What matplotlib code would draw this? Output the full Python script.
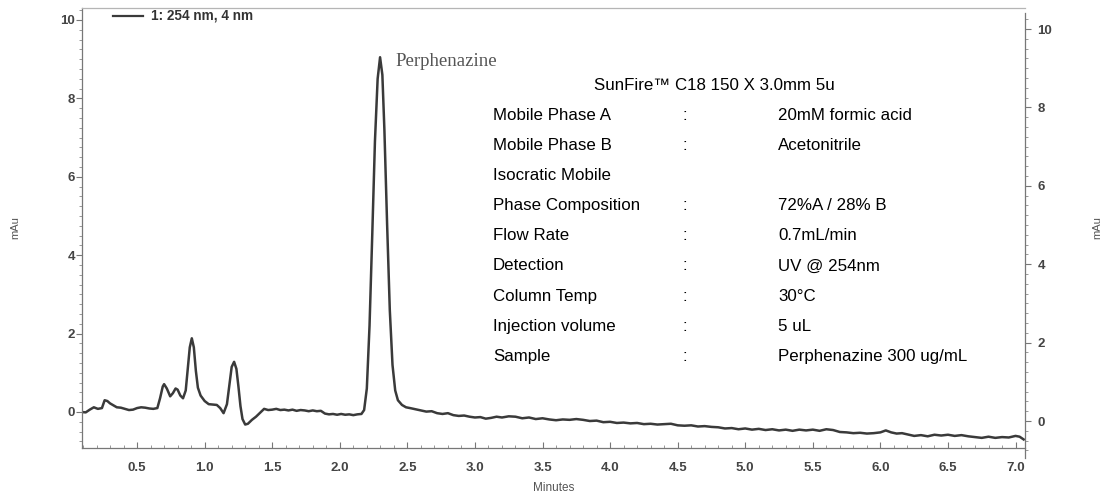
import matplotlib
matplotlib.use("Agg")
import matplotlib.pyplot as plt
from matplotlib.ticker import MultipleLocator

# ---------------- data ----------------
TIME = [0.09, 0.12, 0.15, 0.18, 0.21, 0.24, 0.26, 0.28, 0.30, 0.32, 0.35, 0.38, 0.41, 0.44,
        0.47, 0.50, 0.53, 0.56, 0.59, 0.62, 0.65, 0.67, 0.69, 0.70, 0.72, 0.745, 0.765, 0.785,
        0.80, 0.82, 0.84, 0.86, 0.875, 0.89, 0.905, 0.92, 0.935, 0.95, 0.97, 1.00, 1.03, 1.06,
        1.09, 1.115, 1.14, 1.165, 1.185, 1.20, 1.218, 1.235, 1.25, 1.265, 1.28, 1.30, 1.32,
        1.35, 1.38, 1.41, 1.44, 1.47, 1.50, 1.53, 1.56, 1.59, 1.62, 1.65, 1.68, 1.71, 1.74,
        1.77, 1.80, 1.83, 1.86, 1.89, 1.92, 1.95, 1.98, 2.01, 2.04, 2.07, 2.10, 2.13, 2.16,
        2.18, 2.20, 2.22, 2.24, 2.26, 2.28, 2.298, 2.315, 2.33, 2.35, 2.37, 2.39, 2.41, 2.43,
        2.46, 2.49, 2.52, 2.56, 2.60, 2.64, 2.68, 2.72, 2.76, 2.80, 2.84, 2.88, 2.92, 2.96,
        3.00, 3.04, 3.08, 3.12, 3.16, 3.20, 3.25, 3.30, 3.35, 3.40, 3.45, 3.50, 3.55, 3.60,
        3.65, 3.70, 3.75, 3.80, 3.85, 3.90, 3.95, 4.00, 4.05, 4.10, 4.15, 4.20, 4.25, 4.30,
        4.35, 4.40, 4.45, 4.50, 4.55, 4.60, 4.65, 4.70, 4.75, 4.80, 4.85, 4.90, 4.95, 5.00,
        5.05, 5.10, 5.15, 5.20, 5.25, 5.30, 5.35, 5.40, 5.45, 5.50, 5.55, 5.60, 5.65, 5.70,
        5.75, 5.80, 5.85, 5.90, 5.95, 6.00, 6.04, 6.08, 6.12, 6.16, 6.20, 6.25, 6.30, 6.35,
        6.40, 6.45, 6.50, 6.55, 6.60, 6.65, 6.70, 6.75, 6.80, 6.85, 6.90, 6.95, 7.00, 7.03,
        7.06]
SIGNAL = [0.00, -0.01, 0.06, 0.12, 0.08, 0.10, 0.30, 0.28, 0.22, 0.18, 0.12, 0.11, 0.08, 0.05,
          0.06, 0.10, 0.12, 0.11, 0.09, 0.08, 0.10, 0.35, 0.65, 0.71, 0.60, 0.40, 0.48, 0.60,
          0.57, 0.42, 0.35, 0.55, 1.10, 1.65, 1.88, 1.65, 1.05, 0.62, 0.42, 0.28, 0.20, 0.19,
          0.18, 0.10, -0.03, 0.20, 0.75, 1.15, 1.28, 1.10, 0.65, 0.15, -0.18, -0.32, -0.30,
          -0.20, -0.12, -0.02, 0.08, 0.05, 0.06, 0.08, 0.05, 0.06, 0.04, 0.06, 0.03, 0.05, 0.04,
          0.02, 0.04, 0.02, 0.03, -0.04, -0.06, -0.05, -0.07, -0.05, -0.07, -0.06, -0.08, -0.06, -0.05,
          0.05, 0.60, 2.20, 4.50, 6.90, 8.50, 9.05, 8.60, 7.20, 4.80, 2.60, 1.20, 0.55, 0.30,
          0.18, 0.12, 0.10, 0.07, 0.04, 0.01, 0.02, -0.03, -0.05, -0.03, -0.08, -0.10, -0.09, -0.12,
          -0.14, -0.13, -0.17, -0.15, -0.12, -0.14, -0.11, -0.12, -0.16, -0.14, -0.18, -0.16, -0.19, -0.21,
          -0.19, -0.20, -0.18, -0.20, -0.23, -0.22, -0.26, -0.25, -0.28, -0.27, -0.29, -0.28, -0.31, -0.30,
          -0.32, -0.31, -0.30, -0.34, -0.35, -0.34, -0.37, -0.36, -0.38, -0.39, -0.42, -0.41, -0.44, -0.42,
          -0.45, -0.43, -0.46, -0.44, -0.47, -0.45, -0.48, -0.45, -0.47, -0.45, -0.48, -0.44, -0.46, -0.51,
          -0.52, -0.54, -0.53, -0.55, -0.54, -0.52, -0.47, -0.52, -0.55, -0.54, -0.57, -0.61, -0.59, -0.62,
          -0.58, -0.60, -0.58, -0.61, -0.59, -0.62, -0.64, -0.66, -0.63, -0.66, -0.64, -0.65, -0.61, -0.63,
          -0.70]

X_TICKS = [0.5, 1.0, 1.5, 2.0, 2.5, 3.0, 3.5, 4.0, 4.5, 5.0, 5.5, 6.0, 6.5, 7.0]
Y_TICKS = [0, 2, 4, 6, 8, 10]
LEGEND_LABEL = "1: 254 nm, 4 nm"
PEAK_LABEL = "Perphenazine"
TABLE_TITLE = "SunFire\u2122 C18 150 X 3.0mm 5u"
TABLE_KEYS = ["Mobile Phase A", "Mobile Phase B", "Isocratic Mobile", "Phase Composition",
              "Flow Rate", "Detection", "Column Temp", "Injection volume", "Sample"]
TABLE_SEPS = [":", ":", "", ":", ":", ":", ":", ":", ":"]
TABLE_VALUES = ["20mM formic acid", "Acetonitrile", "", "72%A / 28% B", "0.7mL/min",
                "UV @ 254nm", "30\u00b0C", "5 uL", "Perphenazine 300 ug/mL"]

# ---------------- figure ----------------
W, H = 1107, 498
fig = plt.figure(figsize=(W / 100, H / 100), dpi=100)
plt.rcParams['font.family'] = ['Liberation Sans', 'DejaVu Sans']

def fx(px):
    return px / W

def fy(py):
    return 1 - py / H

TICK_COLOR = '#444444'
LINE_COLOR = '#3a3a3a'
TICK_FS = 9.5
TABLE_FS = 12.2

# main axes
L, R, B, T = 82, 1025, 448, 8
ax = fig.add_axes([fx(L), fy(B), fx(R) - fx(L), fy(T) - fy(B)])
ax.plot(TIME, SIGNAL, color=LINE_COLOR, lw=1.8, solid_joinstyle='round')
ax.set_xlim(0.0925, 7.07)
ax.set_ylim((412 - B) / 39.2, (412 - T) / 39.2)
ax.set_xticks(X_TICKS)
ax.set_xticklabels([f"{v:.1f}" for v in X_TICKS])
ax.set_yticks(Y_TICKS)
ax.xaxis.set_minor_locator(MultipleLocator(0.1))
ax.yaxis.set_minor_locator(MultipleLocator(0.25))
ax.tick_params(axis='x', which='major', direction='in', length=4, width=0.8, color='#777777',
               pad=10, labelsize=TICK_FS, labelcolor=TICK_COLOR)
ax.tick_params(axis='x', which='minor', direction='in', length=2.5, width=0.6, color='#888888')
ax.tick_params(axis='y', which='major', direction='out', length=4, width=0.8, color='#777777',
               pad=1, labelsize=TICK_FS, labelcolor=TICK_COLOR)
ax.tick_params(axis='y', which='minor', direction='out', length=2.5, width=0.6, color='#888888')
for lab in ax.get_xticklabels() + ax.get_yticklabels():
    lab.set_fontweight('bold')
ax.spines['right'].set_visible(False)
ax.spines['top'].set_color('#b5b5b5')
ax.spines['top'].set_linewidth(0.9)
ax.spines['left'].set_color('#777777')
ax.spines['bottom'].set_color('#777777')
ax.spines['left'].set_linewidth(0.9)
ax.spines['bottom'].set_linewidth(0.9)

# right-hand axis (slightly offset scale, as in the scan)
R_B, R_T = 458, 13
ax2 = fig.add_axes([fx(L), fy(R_B), fx(R) - fx(L), fy(R_T) - fy(R_B)])
ax2.patch.set_visible(False)
ax2.set_xlim(ax.get_xlim())
ax2.set_ylim((421 - R_B) / 39.2, (421 - R_T) / 39.2)
ax2.set_xticks([])
for s in ['left', 'top', 'bottom']:
    ax2.spines[s].set_visible(False)
ax2.spines['right'].set_color('#777777')
ax2.spines['right'].set_linewidth(0.9)
ax2.yaxis.tick_right()
ax2.set_yticks(Y_TICKS)
ax2.yaxis.set_minor_locator(MultipleLocator(0.25))
ax2.tick_params(axis='y', which='major', direction='out', length=4, width=0.8, color='#777777',
                pad=5, labelsize=TICK_FS, labelcolor=TICK_COLOR)
ax2.tick_params(axis='y', which='minor', direction='out', length=2.5, width=0.6, color='#888888')
for lab in ax2.get_yticklabels():
    lab.set_fontweight('bold')

# axis titles
fig.text(fx((L + R) / 2), fy(488), "Minutes", ha='center', va='center', fontsize=8.5,
         color='#555555')
fig.text(fx(15), fy(228), "mAu", ha='center', va='center', rotation=90, fontsize=8,
         color='#555555')
fig.text(fx(1097), fy(228), "mAu", ha='center', va='center', rotation=90, fontsize=8,
         color='#555555')

# legend
fig.lines.append(plt.Line2D([fx(113), fx(143)], [fy(16), fy(16)], transform=fig.transFigure,
                            color=LINE_COLOR, lw=1.6))
fig.text(fx(151), fy(16), LEGEND_LABEL, ha='left', va='center', fontsize=9.8,
         fontweight='bold', color='#333333')

# peak label
fig.text(fx(395), fy(62), PEAK_LABEL, ha='left', va='center', fontsize=13.5,
         family=['Liberation Serif', 'DejaVu Serif'], color='#555555')

# method table
fig.text(fx(714), fy(85), TABLE_TITLE, ha='center', va='center', fontsize=TABLE_FS, color='black')
ROW0, ROW_STEP = 115, 30.2
for i, (k, s, v) in enumerate(zip(TABLE_KEYS, TABLE_SEPS, TABLE_VALUES)):
    yy = fy(ROW0 + i * ROW_STEP)
    fig.text(fx(493), yy, k, ha='left', va='center', fontsize=TABLE_FS, color='black')
    if s:
        fig.text(fx(685), yy, s, ha='center', va='center', fontsize=TABLE_FS, color='black')
    if v:
        fig.text(fx(778), yy, v, ha='left', va='center', fontsize=TABLE_FS, color='black')

fig.savefig("out.png", dpi=100)
